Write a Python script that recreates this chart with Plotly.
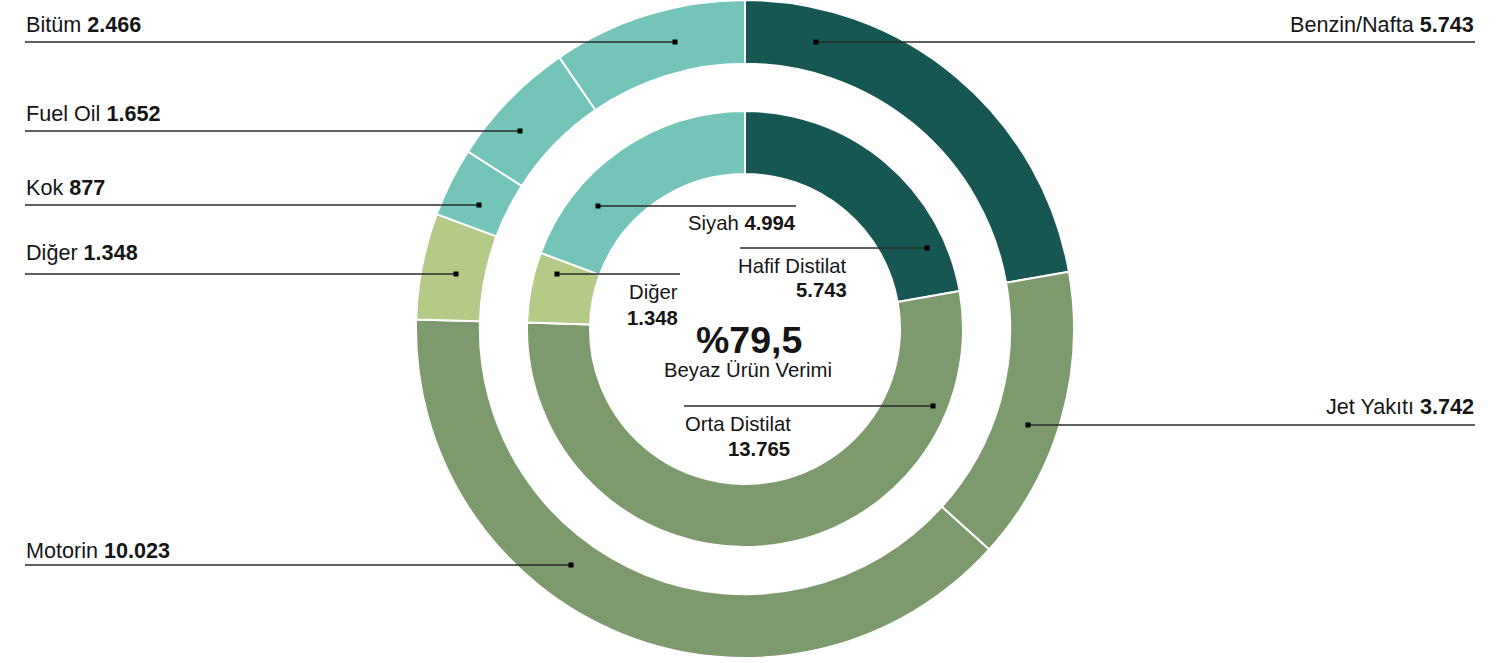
import plotly.graph_objects as go

# ---- data -------------------------------------------------------------
outer_labels = ["Benzin/Nafta", "Jet Yakıtı", "Motorin", "Diğer", "Kok", "Fuel Oil", "Bitüm"]
outer_values = [5743, 3742, 10023, 1348, 877, 1652, 2466]

inner_labels = ["Hafif Distilat", "Orta Distilat", "Diğer", "Siyah"]
inner_values = [5743, 13765, 1348, 4994]

yield_pct = 79.5
yield_label = "Beyaz Ürün Verimi"

# ---- styling ----------------------------------------------------------
W, H = 1503, 663
DARK = "#175753"
GREEN = "#7d9a6c"
TEAL = "#74c4ba"
LIGHT = "#b5ca86"
outer_colors = [DARK, GREEN, GREEN, LIGHT, TEAL, TEAL, TEAL]
inner_colors = [DARK, GREEN, LIGHT, TEAL]

FONT = "Liberation Sans, Arial, Helvetica, sans-serif"
INK = "#151515"
LINE = "#2b2b2b"

CX, CY = 745, 329          # common centre of both rings (px)
R_OUT, R_IN = 329, 218     # outer radius of each ring (px)


def tr(n):
    """Turkish thousands separator."""
    return f"{n:,}".replace(",", ".")


def pie_domain(r):
    return dict(
        x=[(CX - r) / W, (CX + r) / W],
        y=[max(0.0, (H - (CY + r)) / H), min(1.0, (H - (CY - r)) / H)],
    )


fig = go.Figure()

fig.add_trace(go.Pie(
    labels=outer_labels, values=outer_values, sort=False,
    direction="clockwise", rotation=0, hole=0.806,
    marker=dict(colors=outer_colors, line=dict(color="white", width=2)),
    textinfo="none", hoverinfo="label+value", showlegend=False,
    domain=pie_domain(R_OUT),
))
fig.add_trace(go.Pie(
    labels=inner_labels, values=inner_values, sort=False,
    direction="clockwise", rotation=0, hole=0.711,
    marker=dict(colors=inner_colors, line=dict(color="white", width=2)),
    textinfo="none", hoverinfo="label+value", showlegend=False,
    domain=pie_domain(R_IN),
))

# ---- callouts: (text y, leader y, line start x, line end x, marker x, anchor x, side)
outer_callouts = {
    "Bitüm":        (24, 42, 25, 675, 675, 25, "left"),
    "Fuel Oil":     (113, 131, 25, 520, 520, 25, "left"),
    "Kok":          (187, 205, 25, 479, 479, 25, "left"),
    "Diğer":        (252, 274, 25, 456, 456, 25, "left"),
    "Motorin":      (550, 565, 25, 571, 571, 25, "left"),
    "Benzin/Nafta": (24, 42, 816, 1475, 816, 1475, "right"),
    "Jet Yakıtı":   (406, 425, 1028, 1475, 1028, 1475, "right"),
}

shapes = []
annotations = []


def leader(y, x0, x1, mx):
    shapes.append(dict(type="line", xref="x", yref="y", x0=x0, x1=x1, y0=y, y1=y,
                       line=dict(color=LINE, width=1.3), layer="above"))
    shapes.append(dict(type="rect", xref="x", yref="y", x0=mx - 2.5, x1=mx + 2.5,
                       y0=y - 2.5, y1=y + 2.5, fillcolor="#000000",
                       line=dict(width=0), layer="above"))


def text(x, y, s, anchor, size=21.6):
    annotations.append(dict(xref="x", yref="y", x=x, y=y, text=s, showarrow=False,
                            xanchor=anchor, yanchor="middle", borderpad=0,
                            font=dict(family=FONT, size=size, color=INK)))


for lab, val in zip(outer_labels, outer_values):
    ty, ly, x0, x1, mx, ax, side = outer_callouts[lab]
    leader(ly, x0, x1, mx)
    text(ax, ty, f"{lab} <b>{tr(val)}</b>", side)

# inner ring callouts
iv = dict(zip(inner_labels, inner_values))

leader(206, 598, 796, 598)
text(797, 223, f"Siyah <b>{tr(iv['Siyah'])}</b>", "right", 20.3)

leader(248, 740, 927, 927)
text(848, 266, "Hafif Distilat", "right", 20.3)
text(848, 290, f"<b>{tr(iv['Hafif Distilat'])}</b>", "right", 20.3)

leader(274, 557, 680, 557)
text(679, 292, "Diğer", "right", 20.3)
text(679, 318, f"<b>{tr(iv['Diğer'])}</b>", "right", 20.3)

leader(406, 684, 933, 933)
text(684, 424, "Orta Distilat", "left", 20.3)
text(791, 449, f"<b>{tr(iv['Orta Distilat'])}</b>", "right", 20.3)

# centre figure
text(749, 340, f"<b>%{str(yield_pct).replace('.', ',')}</b>", "center", 37.5)
text(748, 370, yield_label, "center", 20.3)

fig.update_layout(
    width=W, height=H,
    margin=dict(l=0, r=0, t=0, b=0),
    paper_bgcolor="white", plot_bgcolor="rgba(0,0,0,0)",
    xaxis=dict(range=[0, W], visible=False, fixedrange=True),
    yaxis=dict(range=[H, 0], visible=False, fixedrange=True),
    shapes=shapes, annotations=annotations,
)

fig.write_html("out.html")
